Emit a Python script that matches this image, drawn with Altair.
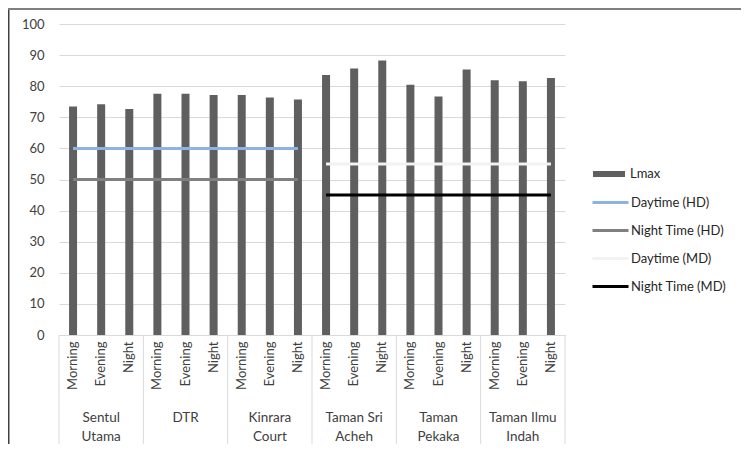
import altair as alt
import pandas as pd

sites = ["Sentul Utama", "DTR", "Kinrara Court", "Taman Sri Acheh", "Taman Pekaka", "Taman Ilmu Indah"]
site_labels = ["Sentul\nUtama", "DTR", "Kinrara\nCourt", "Taman Sri\nAcheh", "Taman\nPekaka", "Taman Ilmu\nIndah"]
times = ["Morning", "Evening", "Night"]

lmax = [73.5, 74.2, 72.7,
        77.6, 77.6, 77.2,
        77.2, 76.4, 75.7,
        83.6, 85.7, 88.3,
        80.5, 76.7, 85.4,
        81.9, 81.6, 82.6]

daytime_hd = [60, 60, 60, 60, 60, 60, 60, 60, 60]
night_hd = [50, 50, 50, 50, 50, 50, 50, 50, 50]
daytime_md = [55, 55, 55, 55, 55, 55, 55, 55, 55]
night_md = [45, 45, 45, 45, 45, 45, 45, 45, 45]

y_ticks = [0, 10, 20, 30, 40, 50, 60, 70, 80, 90, 100]

line_names = ["Daytime (HD)", "Night Time (HD)", "Daytime (MD)", "Night Time (MD)"]
line_colors = ["#8db3e2", "#808080", "#f2f2f2", "#000000"]

keys = [f"{s}|{t}" for s in sites for t in times]

bars = pd.DataFrame({"key": keys, "value": lmax, "series": ["Lmax"] * len(keys)})

rows = []
for name, vals, ks in [(line_names[0], daytime_hd, keys[:9]),
                       (line_names[1], night_hd, keys[:9]),
                       (line_names[2], daytime_md, keys[9:]),
                       (line_names[3], night_md, keys[9:])]:
    for i, (k, v) in enumerate(zip(ks, vals)):
        rows.append({"key": k, "value": v, "series": name, "idx": i})
lines = pd.DataFrame(rows)

groups = pd.DataFrame({"key": [keys[i * 3 + 1] for i in range(len(sites))], "label": site_labels})
starts = pd.DataFrame({"key": [keys[i * 3] for i in range(len(sites))]})
ends = pd.DataFrame({"key": [keys[-1]]})
one = pd.DataFrame({"a": [0]})

W, H = 506, 311
PL = 51
FONT = "Lato"
TXT = "#404040"

xscale = alt.Scale(domain=keys, paddingInner=0, paddingOuter=0)
yscale = alt.Scale(domain=[0, 100], nice=False)
x_axis = alt.Axis(title=None, labelExpr="split(datum.label, '|')[1]", labelAngle=-90,
                  ticks=False, domainColor="#d9d9d9", labelFontSize=13, labelColor=TXT,
                  labelFont=FONT, labelPadding=6, grid=False, labelOverlap=False)
y_axis = alt.Axis(title=None, values=y_ticks, grid=True, gridColor="#d9d9d9",
                  domain=False, ticks=False, labelPadding=15, labelFontSize=13,
                  labelColor=TXT, labelFont=FONT, labelOverlap=False, tickCount=11)

bar = alt.Chart(bars).mark_bar(size=8).encode(
    x=alt.X("key:N", scale=xscale, axis=x_axis, sort=keys),
    y=alt.Y("value:Q", scale=yscale, axis=y_axis),
    fill=alt.Fill("series:N", scale=alt.Scale(domain=["Lmax"], range=["#5f5f5f"]),
                  legend=alt.Legend(title=None, orient="none", legendX=541, legendY=141,
                                    symbolType="M-1.78,-0.33H1.78V0.33H-1.78Z", symbolSize=324,
                                    symbolStrokeWidth=0, labelFontSize=13, labelFont=FONT,
                                    labelColor="#262626", labelOffset=12, padding=0)),
)

line = alt.Chart(lines).mark_line(strokeWidth=3).encode(
    x=alt.X("key:N", sort=keys, scale=xscale, axis=x_axis),
    y=alt.Y("value:Q", scale=yscale, axis=y_axis),
    stroke=alt.Stroke("series:N", scale=alt.Scale(domain=line_names, range=line_colors),
                      legend=alt.Legend(title=None, orient="none", legendX=541, legendY=168,
                                        symbolType="M-2,0H2", symbolSize=324, symbolStrokeWidth=3,
                                        rowPadding=10, labelFontSize=13, labelFont=FONT,
                                        labelColor="#262626", labelOffset=10, padding=0)),
    detail="series:N",
    order="idx:Q",
)

sep = alt.Chart(starts).mark_rule(color="#d9d9d9", strokeWidth=1).encode(
    x=alt.X("key:N", sort=keys, bandPosition=0),
    y=alt.value(H), y2=alt.value(H + 111),
)
sep_end = alt.Chart(ends).mark_rule(color="#d9d9d9", strokeWidth=1).encode(
    x=alt.X("key:N", sort=keys, bandPosition=1),
    y=alt.value(H), y2=alt.value(H + 111),
)

glabels = alt.Chart(groups).mark_text(lineBreak="\n", baseline="top", fontSize=13.5, font=FONT,
                                      color=TXT, lineHeight=19).encode(
    x=alt.X("key:N", sort=keys),
    y=alt.value(H + 76),
    text="label:N",
)

frame_left = alt.Chart(one).mark_rule(color="#404040", strokeWidth=1.5).encode(
    x=alt.value(0.75 - PL), y=alt.value(-16), y2=alt.value(H + 120))
frame_top = alt.Chart(one).mark_rule(color="#7f7f7f", strokeWidth=2).encode(
    y=alt.value(-15), x=alt.value(-PL), x2=alt.value(W + 180))

chart = alt.layer(bar, line, sep, sep_end, glabels, frame_left, frame_top).properties(
    width=W, height=H,
    padding={"left": PL, "top": 16, "right": 733 - PL - W, "bottom": 109},
    autosize=alt.AutoSizeParams(type="none"),
).configure(background="white").configure_view(stroke="transparent", strokeWidth=0)

chart.save("out.html", embed_options={"renderer": "svg", "actions": False})
